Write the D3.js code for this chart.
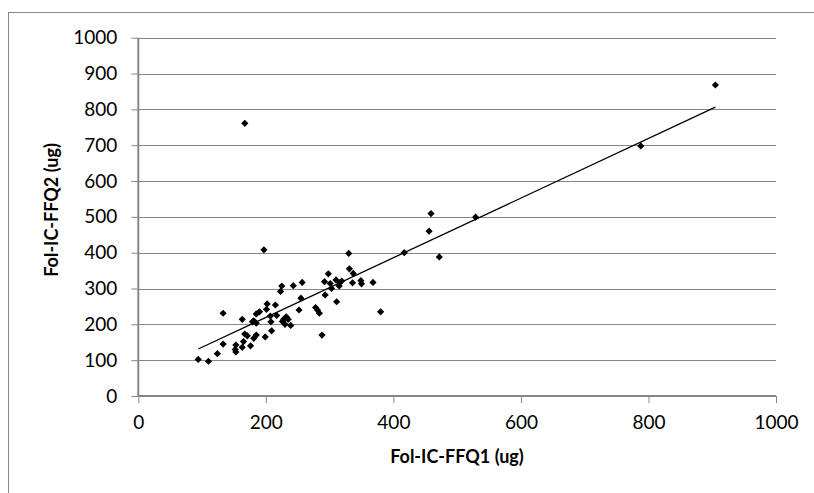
<!DOCTYPE html>
<html>
<head>
<meta charset="utf-8">
<script src="https://cdn.jsdelivr.net/npm/d3@7"></script>
<style>
  html, body { margin: 0; padding: 0; background: #fff; }
  svg { display: block; }
  text { font-family: Lato, "Open Sans", sans-serif; fill: #000; }
</style>
</head>
<body>
<svg id="chart" width="814" height="493"></svg>
<script>
// FFQ1 (x) and FFQ2 (y) folate intake values, ug
const ffq1 = [94,110,124,133,153,152,153,163,165,167,171,176,181,185,199,209,
  133,163,181,185,179,185,190,197,202,201,215,225,223,207,208,217,228,232,235,230,239,226,
  243,257,255,252,278,281,284,288,292,301,298,310,316,319,303,293,315,311,
  330,331,337,336,349,350,368,380,167,417,456,459,472,529,788,905];
const ffq2 = [102,97,118,145,142,130,123,136,152,173,168,140,161,170,165,182,
  231,214,210,203,207,229,235,408,257,242,254,307,292,223,207,225,214,221,214,200,197,208,
  308,317,273,240,247,240,231,170,319,314,341,324,316,321,300,282,307,263,
  398,355,342,316,322,313,317,235,761,400,460,509,388,499,698,868];
const xTicks = [0, 200, 400, 600, 800, 1000];
const yTicks = [0, 100, 200, 300, 400, 500, 600, 700, 800, 900, 1000];
const xTitle = "Fol-IC-FFQ1 (ug)";
const yTitle = "Fol-IC-FFQ2 (ug)";

const points = ffq1.map((v, i) => ({x: v, y: ffq2[i]}));

const svg = d3.select("#chart");
const mLeft = 138.3, mRight = 776, mTop = 37.7, mBottom = 396;
const x = d3.scaleLinear().domain([0, 1000]).range([mLeft, mRight]);
const y = d3.scaleLinear().domain([0, 1000]).range([mBottom, mTop]);
const gray = "#868686";

// outer chart border
svg.append("rect").attr("x", 8.5).attr("y", 12.5).attr("width", 820).attr("height", 500)
  .attr("fill", "none").attr("stroke", gray).attr("stroke-width", 1);

// gridlines
svg.append("g").selectAll("line").data(yTicks.filter(d => d > 0)).join("line")
  .attr("x1", mLeft).attr("x2", mRight)
  .attr("y1", d => Math.round(y(d)) + 0.5).attr("y2", d => Math.round(y(d)) + 0.5)
  .attr("stroke", gray).attr("stroke-width", 1);

// y axis
const yAxis = svg.append("g").attr("transform", `translate(${mLeft},0)`)
  .call(d3.axisLeft(y).tickValues(yTicks).tickSize(7).tickPadding(14).tickFormat(d3.format("d")));
// x axis
const xAxis = svg.append("g").attr("transform", `translate(0,${mBottom})`)
  .call(d3.axisBottom(x).tickValues(xTicks).tickSize(7).tickPadding(13).tickFormat(d3.format("d")));
[yAxis, xAxis].forEach(g => {
  g.select(".domain").attr("stroke", gray).attr("stroke-width", 2);
  g.selectAll(".tick line").attr("stroke", gray).attr("stroke-width", 1);
  g.selectAll(".tick text").attr("font-family", "Lato, sans-serif").attr("font-size", 19).attr("fill", "#000");
});
xAxis.select(".domain").attr("d", `M${mLeft},0H${mRight}`);
yAxis.select(".domain").attr("d", `M0,${mBottom}V${mTop}`);

// least squares trend line
const mx = d3.mean(points, d => d.x), my = d3.mean(points, d => d.y);
const slope = d3.sum(points, d => (d.x - mx) * (d.y - my)) / d3.sum(points, d => (d.x - mx) ** 2);
const intercept = my - slope * mx;
const [xmin, xmax] = d3.extent(points, d => d.x);
svg.append("line")
  .attr("x1", x(xmin)).attr("y1", y(intercept + slope * xmin))
  .attr("x2", x(xmax)).attr("y2", y(intercept + slope * xmax))
  .attr("stroke", "#000").attr("stroke-width", 1.3);

// markers (diamonds)
const sym = d3.symbol(d3.symbolSquare, 26);
svg.append("g").selectAll("path").data(points).join("path")
  .attr("d", sym)
  .attr("transform", d => `translate(${x(d.x)},${y(d.y)}) rotate(45)`)
  .attr("fill", "#000");

// axis titles
svg.append("text").attr("x", 457).attr("y", 463).attr("text-anchor", "middle")
  .attr("font-weight", "bold").attr("font-size", 18).text(xTitle);
svg.append("text").attr("transform", "translate(58,210) rotate(-90)").attr("text-anchor", "middle")
  .attr("font-weight", "bold").attr("font-size", 18).text(yTitle);
</script>
</body>
</html>
